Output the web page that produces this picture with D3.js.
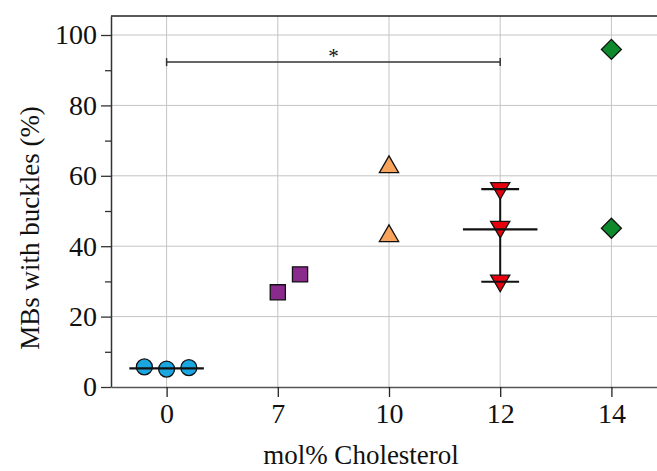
<!DOCTYPE html>
<html><head><meta charset="utf-8">
<script src="https://cdn.jsdelivr.net/npm/d3@7"></script>
<style>body{margin:0;background:#fff}svg{display:block}text{font-family:"Liberation Serif","DejaVu Serif",serif;fill:#111}</style>
</head><body><svg id="c" width="657" height="471"></svg>
<script>
const categories = ["0","7","10","12","14"];
const yTicks = [0,20,40,60,80,100];
const yMinor = [10,30,50,70,90];
// points per group: value and horizontal jitter (fraction of category step)
const g0 = [{v:5.7,j:-0.2},{v:5.1,j:0},{v:5.5,j:0.2}];
const g7 = [{v:26.9,j:0},{v:32.0,j:0.2}];
const g10 = [{v:62.5,j:0},{v:42.9,j:0}];
const g12 = [{v:56.5,j:0},{v:45.5,j:0},{v:30.2,j:0}];
const g14 = [{v:95.9,j:0},{v:45.1,j:0}];
const groups = [
  {cat:"0", pts:g0, shape:"circle", color:"#1aa6e0"},
  {cat:"7", pts:g7, shape:"square", color:"#8a2a8c"},
  {cat:"10", pts:g10, shape:"triangle", color:"#f7a35c"},
  {cat:"12", pts:g12, shape:"triangleDown", color:"#e8000d"},
  {cat:"14", pts:g14, shape:"diamond", color:"#0c8a2c"}
];
const means = [{cat:"0", mean:5.3, lo:null, hi:null},{cat:"12", mean:44.8, lo:29.9, hi:56.2}];
const sig = {from:"0", to:"12", y:92.3, label:"*"};

const svg = d3.select("#c");
const L=111, T=16, B=387, R=667;
const x = d3.scalePoint().domain(categories).range([L,R]).padding(0.5);
const y = d3.scaleLinear().domain([0,105.4]).range([B,T]);
const step = x.step();

// grid
const grid = svg.append("g").attr("stroke","#c4c4c4").attr("stroke-width",1);
grid.selectAll(".gy").data(yTicks.filter(d=>d>0)).join("line")
  .attr("x1",L).attr("x2",657).attr("y1",d=>y(d)).attr("y2",d=>y(d));
grid.selectAll(".gx").data(categories).join("line")
  .attr("x1",d=>x(d)).attr("x2",d=>x(d)).attr("y1",T).attr("y2",B);

// top border
svg.append("line").attr("x1",L).attr("x2",657).attr("y1",T).attr("y2",T).attr("stroke","#222").attr("stroke-width",1.5);

// axes
const ya = svg.append("g").attr("transform",`translate(${L},0)`)
  .call(d3.axisLeft(y).tickValues(yTicks).tickSize(10).tickPadding(4).tickSizeOuter(0));
ya.select(".domain").attr("stroke","#333").attr("stroke-width",1.5);
ya.selectAll(".tick line").attr("stroke","#333").attr("stroke-width",1.3);
ya.selectAll("text").style("font-size","28px").attr("fill","#111").attr("font-family",null);
svg.append("g").attr("transform",`translate(${L},0)`)
  .call(d3.axisLeft(y).tickValues(yMinor).tickSize(6).tickFormat("").tickSizeOuter(0))
  .call(g=>g.select(".domain").remove())
  .selectAll("line").attr("stroke","#333").attr("stroke-width",1.3);

const xa = svg.append("g").attr("transform",`translate(0,${B})`)
  .call(d3.axisBottom(x).tickSize(10).tickPadding(6).tickSizeOuter(0));
xa.select(".domain").attr("stroke","#555").attr("stroke-width",1.5);
xa.selectAll(".tick line").attr("stroke","#222").attr("stroke-width",1.3);
xa.selectAll("text").style("font-size","28px").attr("fill","#111").attr("font-family",null);

// axis titles
svg.append("text").attr("x",361).attr("y",464).attr("text-anchor","middle").style("font-size","27px").text("mol% Cholesterol");
svg.append("text").attr("transform","translate(39,228) rotate(-90)").attr("text-anchor","middle").style("font-size","27px").text("MBs with buckles (%)");

// significance bracket
const sg = svg.append("g").attr("stroke","#333").attr("stroke-width",1.5);
sg.append("line").attr("x1",x(sig.from)).attr("x2",x(sig.to)).attr("y1",y(sig.y)).attr("y2",y(sig.y));
[sig.from,sig.to].forEach(c=>sg.append("line").attr("x1",x(c)).attr("x2",x(c)).attr("y1",y(sig.y)-4).attr("y2",y(sig.y)+4));
svg.append("text").attr("x",(x(sig.from)+x(sig.to))/2).attr("y",y(sig.y)+1).attr("text-anchor","middle").style("font-size","21px").text(sig.label);

// error bars (vertical) behind markers
const eb = svg.append("g").attr("stroke","#111").attr("stroke-width",2);
means.filter(m=>m.lo!=null).forEach(m=>{
  eb.append("line").attr("x1",x(m.cat)).attr("x2",x(m.cat)).attr("y1",y(m.hi)).attr("y2",y(m.lo));
});

// markers
const sym = {circle:d3.symbolCircle, square:d3.symbolSquare, triangle:d3.symbolTriangle, triangleDown:d3.symbolTriangle, diamond:d3.symbolSquare};
const size = {circle:200, square:230, triangle:160, triangleDown:160, diamond:200};
groups.forEach(g=>{
  svg.append("g").selectAll("path").data(g.pts).join("path")
    .attr("d", d3.symbol(sym[g.shape], size[g.shape]))
    .attr("transform", d=>{
      const cx = x(g.cat)+d.j*step, cy=y(d.v);
      let rot = 0;
      if(g.shape==="triangleDown") rot=180;
      if(g.shape==="diamond") rot=45;
      return `translate(${cx},${cy}) rotate(${rot})`;
    })
    .attr("fill", g.color).attr("stroke","#111").attr("stroke-width",1.3);
});

// mean lines and caps on top
const ml = svg.append("g").attr("stroke","#111").attr("stroke-width",2.2);
means.forEach(m=>{
  ml.append("line").attr("x1",x(m.cat)-0.335*step).attr("x2",x(m.cat)+0.335*step).attr("y1",y(m.mean)).attr("y2",y(m.mean));
  if(m.lo!=null){
    [m.lo,m.hi].forEach(v=>ml.append("line").attr("x1",x(m.cat)-0.17*step).attr("x2",x(m.cat)+0.17*step).attr("y1",y(v)).attr("y2",y(v)));
  }
});
</script></body></html>
